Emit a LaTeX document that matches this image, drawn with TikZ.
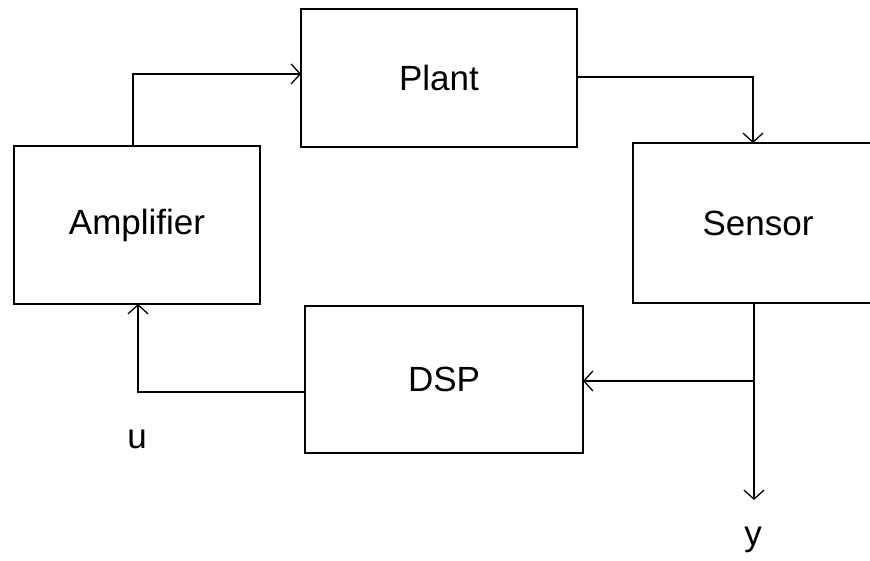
\documentclass[tikz,border=0pt]{standalone}
\usepackage{fontspec}
\setmainfont{Liberation Sans}
\usetikzlibrary{arrows.meta}
\begin{document}
\begin{tikzpicture}[x=1pt,y=-1pt,
  block/.style={draw=black,line width=1.6pt,rectangle,inner sep=0pt,outer sep=0pt,
    font=\fontsize{35}{40}\selectfont},
  wire/.style={line width=1.6pt,
    -{Straight Barb[length=9pt,width=20pt,line width=1.3pt]}},
  plainwire/.style={line width=1.6pt},
  sig/.style={font=\fontsize{35}{40}\selectfont,inner sep=0pt}]
  \useasboundingbox (0,0) rectangle (870,561);
  \clip (0,0) rectangle (870,561);

  % blocks of the loop
  \node[block,minimum width=276pt,minimum height=138pt] (plant) at (439,78) {Plant};
  \node[block,minimum width=246pt,minimum height=158pt] (amp) at (137,225) {Amplifier};
  \node[block,minimum width=250pt,minimum height=160pt] (sensor) at (758,223) {Sensor};
  \node[block,minimum width=278pt,minimum height=147pt] (dsp) at (444,379.5) {DSP};

  % bend points and tap
  \coordinate (ampout) at (133,74);
  \coordinate (plantout) at (753,77);
  \coordinate (tap) at (754,381);
  \coordinate (yend) at (754,500);
  \coordinate (uturn) at (138,392);

  % amplifier -> plant
  \draw[wire] (amp.north -| ampout) -- (ampout) -- (plant.west |- ampout);
  % plant -> sensor
  \draw[wire] (plant.east |- plantout) -- (plantout) -- (sensor.north -| plantout);
  % sensor -> output y
  \draw[wire] (sensor.south -| tap) -- (yend);
  % measurement tap -> DSP
  \draw[wire] (tap) -- (dsp.east |- tap);
  % DSP -> amplifier
  \draw[wire] (dsp.west |- uturn) -- (uturn) -- (amp.south -| uturn);

  % signal labels
  \node[sig,anchor=base] (ulabel) at (137,448) {u};
  \node[sig,anchor=base] (ylabel) at (753,545) {y};
\end{tikzpicture}
\end{document}
